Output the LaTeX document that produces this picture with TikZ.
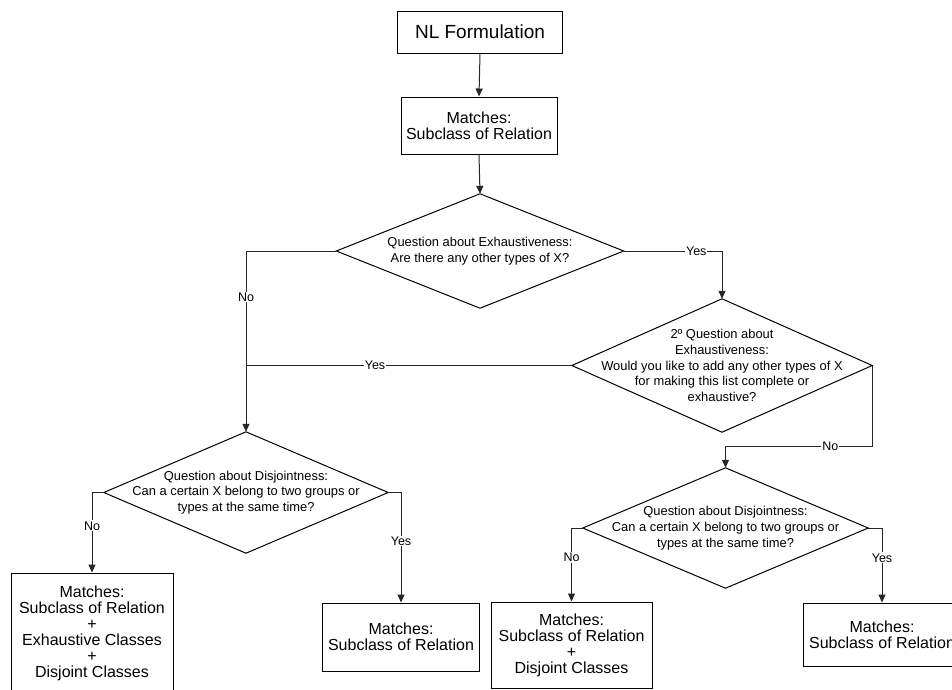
\documentclass[tikz,border=0pt]{standalone}
\usepackage{fontspec}
\setmainfont{Liberation Sans}
\usetikzlibrary{arrows.meta}
\begin{document}
\begin{tikzpicture}[x=1pt,y=-1pt,
  box/.style={draw=black, line width=1pt, inner sep=0pt, align=center,
    font=\fontsize{16}{16}\selectfont},
  decision/.style={inner sep=0pt, align=center,
    font=\fontsize{12.9}{15.7}\selectfont},
  outline/.style={draw=black, line width=1pt, line join=miter},
  flow/.style={draw=black!85, line width=1pt,
    -{Triangle[length=8pt,width=7pt]}},
  plain/.style={draw=black!85, line width=1pt},
  lbl/.style={fill=white, inner sep=1pt, font=\fontsize{12.5}{14}\selectfont}]
\useasboundingbox (0,0) rectangle (952,689);

% process boxes
\node[box, minimum width=165, minimum height=42,
  font=\fontsize{19}{22}\selectfont] (nl) at (480,32) {NL Formulation};
\node[box, minimum width=156, minimum height=57] (m0) at (479,125.5)
  {Matches:\\Subclass of Relation};

% decisions (text nodes, diamonds drawn through their anchors)
\node[decision, minimum width=287, minimum height=114] (d1) at (480,251)
  {Question about Exhaustiveness:\\Are there any other types of X?};
\node[decision, minimum width=300, minimum height=133] (d2) at (722,365.5)
  {2º Question about\\Exhaustiveness:\\Would you like to add any other types of X\\for making this list complete or\\exhaustive?};
\node[decision, minimum width=284, minimum height=121] (d3) at (246,492.5)
  {Question about Disjointness:\\Can a certain X belong to two groups or\\types at the same time?};
\node[decision, minimum width=285, minimum height=120] (d4) at (725.5,528)
  {Question about Disjointness:\\Can a certain X belong to two groups or\\types at the same time?};
\foreach \d in {d1,d2,d3,d4}
  \draw[outline] (\d.north) -- (\d.east) -- (\d.south) -- (\d.west) -- cycle;

% results
\node[box, minimum width=162, minimum height=120] (l1) at (92,633)
  {Matches:\\Subclass of Relation\\+\\Exhaustive Classes\\+\\Disjoint Classes};
\node[box, minimum width=157, minimum height=68] (l2) at (401,637)
  {Matches:\\Subclass of Relation};
\node[box, minimum width=161, minimum height=86] (r1) at (571.5,645)
  {Matches:\\Subclass of Relation\\+\\Disjoint Classes};
\node[box, minimum width=158, minimum height=63] (r2) at (882,634.5)
  {Matches:\\Subclass of Relation};

% connectors
\draw[flow] (nl.south) -- (m0.north);
\draw[flow] (m0.south) -- (d1.north);
\draw[flow] (d1.west) -| node[lbl, pos=0.627] {No} (d3.north);
\draw[flow] (d1.east) -| node[lbl, pos=0.369] {Yes} (d2.north);
\draw[plain] (d2.west) -- node[lbl, pos=0.604] {Yes} (d2.west -| d3.north);
\draw[flow] (d2.east) -- ++(0,80.5) coordinate (d2turn)
  -| node[lbl, pos=0.143] {No} (d4.north);
\draw[flow] (d3.west) -| node[lbl, pos=0.708] {No} (l1.north);
\draw[flow] (d3.east) -| node[lbl, pos=0.72] {Yes} (l2.north);
\draw[flow] (d4.west) -| node[lbl, pos=0.70] {No} (r1.north);
\draw[flow] (d4.east) -| node[lbl, pos=0.70] {Yes} (r2.north);
\end{tikzpicture}
\end{document}
